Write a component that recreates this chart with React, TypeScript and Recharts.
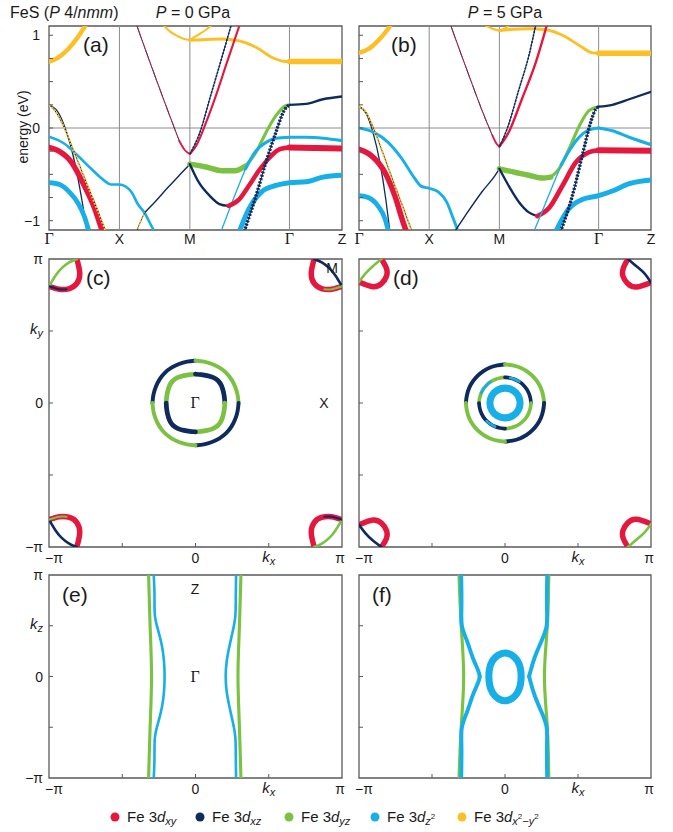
import { LineChart, Line, XAxis, YAxis, ReferenceLine, ReferenceArea } from "recharts";

// FeS (P4/nmm) fat bands + Fermi surfaces at 0 and 5 GPa

type Orb = "xy" | "xz" | "yz" | "z2" | "x2y2";
type Pt = [number, number];
interface Seg { orb: Orb; w: number; pts: Pt[] }

const orbColors: Record<Orb, string> = {
  xy: "#e4173e",
  xz: "#0f2b5e",
  yz: "#7cc242",
  z2: "#18afe8",
  x2y2: "#fcbf26",
};
const legendOrder: Orb[] = ["xy", "xz", "yz", "z2", "x2y2"];

const kPathTicks = [0, 1, 2, 3.414, 4.16];
const kPathLabels = ["Γ", "X", "M", "Γ", "Z"];
const energyTicks = [-1, -0.75, -0.5, -0.25, 0, 0.25, 0.5, 0.75, 1];
const bzTicks = [-1, -0.5, 0, 0.5, 1];

// ---- band structure, P = 0 GPa (k along path, energy in eV, w = orbital weight)
const bandsA: Seg[] = [
  { orb: "x2y2", w: 0.7, pts: [[0, 0.716], [0.13, 0.76], [0.27, 0.85], [0.41, 0.98], [0.53, 1.12]] },
  { orb: "x2y2", w: 0.25, pts: [[1.61, 1.12], [1.72, 1.04], [1.83, 0.99], [1.92, 0.96], [2, 0.95]] },
  { orb: "x2y2", w: 0.25, pts: [[2, 0.95], [2.13, 1.01], [2.23, 1.06], [2.32, 1.12]] },
  { orb: "x2y2", w: 0.4, pts: [[2, 0.945], [2.23, 0.955], [2.46, 0.96], [2.7, 0.94], [2.94, 0.87], [3.17, 0.76], [3.33, 0.72], [3.414, 0.716]] },
  { orb: "x2y2", w: 0.9, pts: [[3.414, 0.716], [3.8, 0.716], [4.16, 0.716]] },
  { orb: "xz", w: 0.1, pts: [[0, 0.25], [0.1, 0.2], [0.2, 0.06], [0.3, -0.17], [0.4, -0.5], [0.47, -0.79], [0.54, -1.12]] },
  { orb: "z2", w: 0.35, pts: [[0, -0.094], [0.22, -0.17], [0.41, -0.3], [0.6, -0.44], [0.79, -0.57], [0.88, -0.61], [1, -0.61], [1.17, -0.69], [1.26, -0.82], [1.36, -0.92], [1.45, -1.05], [1.5, -1.12]] },
  { orb: "xy", w: 0.9, pts: [[0, -0.21], [0.13, -0.245], [0.32, -0.37], [0.5, -0.62], [0.65, -0.87], [0.76, -1.12]] },
  { orb: "z2", w: 0.75, pts: [[0, -0.59], [0.15, -0.61], [0.3, -0.7], [0.42, -0.82], [0.5, -0.95], [0.57, -1.12]] },
  { orb: "xy", w: 0.2, pts: [[1.85, -0.14], [1.93, -0.24], [2, -0.28]] },
  { orb: "xz", w: 0.12, pts: [[1.36, -0.91], [1.5, -0.8], [1.69, -0.64], [1.85, -0.51], [2, -0.39]] },
  { orb: "xy", w: 0.25, pts: [[2, -0.28], [2.09, -0.19], [2.23, 0.06], [2.37, 0.35], [2.51, 0.67], [2.71, 1.12]] },
  { orb: "yz", w: 0.9, pts: [[2, -0.39], [2.23, -0.42], [2.46, -0.46], [2.65, -0.46], [2.79, -0.41]] },
  { orb: "yz", w: 0.45, pts: [[2.79, -0.41], [2.94, -0.26], [3.08, -0.05], [3.22, 0.13], [3.36, 0.24], [3.414, 0.25]] },
  { orb: "z2", w: 0.1, pts: [[2.44, -1.12], [2.6, -0.8], [2.79, -0.44]] },
  { orb: "z2", w: 0.45, pts: [[2.79, -0.44], [2.94, -0.245], [3.08, -0.155], [3.22, -0.11], [3.414, -0.1]] },
  { orb: "z2", w: 0.45, pts: [[3.414, -0.1], [3.65, -0.1], [3.89, -0.11], [4.16, -0.137]] },
  { orb: "xz", w: 0.3, pts: [[2, -0.39], [2.13, -0.59], [2.28, -0.73], [2.42, -0.82], [2.55, -0.84]] },
  { orb: "xy", w: 0.7, pts: [[2.55, -0.84], [2.7, -0.77], [2.84, -0.62], [2.98, -0.46], [3.13, -0.32], [3.27, -0.23], [3.414, -0.21]] },
  { orb: "xy", w: 1, pts: [[3.414, -0.21], [3.8, -0.215], [4.16, -0.22]] },
  { orb: "xz", w: 0.3, pts: [[3.414, 0.25], [3.65, 0.26], [3.89, 0.31], [4.16, 0.34]] },
  { orb: "z2", w: 0.8, pts: [[2.7, -1.12], [2.84, -0.87], [3.03, -0.68], [3.22, -0.62], [3.414, -0.59], [3.65, -0.58], [3.89, -0.53], [4.16, -0.51]] },
];
// mixed-character bands drawn beaded
const bandsADotted: Seg[] = [
  { orb: "x2y2", w: 0.25, pts: [[0, 0.25], [0.1, 0.17], [0.2, 0.03], [0.3, -0.15], [0.4, -0.34], [0.5, -0.53], [0.6, -0.72], [0.7, -0.91], [0.82, -1.14]] },
  { orb: "xy", w: 0.05, pts: [[1.24, 1.12], [1.5, 0.57], [1.73, 0.1], [1.85, -0.14]] },
  { orb: "x2y2", w: 0.15, pts: [[1.24, -1.12], [1.3, -1.01], [1.36, -0.91]] },
  { orb: "xz", w: 0.15, pts: [[2, -0.28], [2.16, -0.01], [2.28, 0.31], [2.42, 0.67], [2.59, 1.12]] },
  { orb: "xz", w: 0.5, pts: [[2.77, -1.12], [2.94, -0.73], [3.08, -0.37], [3.22, -0.05], [3.34, 0.19], [3.414, 0.25]] },
];

// ---- band structure, P = 5 GPa
const bandsB: Seg[] = [
  { orb: "x2y2", w: 0.7, pts: [[0, 0.81], [0.13, 0.85], [0.27, 0.94], [0.415, 1.07], [0.46, 1.12]] },
  { orb: "x2y2", w: 0.25, pts: [[1.77, 1.12], [1.9, 1.07], [2, 1.05]] },
  { orb: "x2y2", w: 0.25, pts: [[2, 1.05], [2.08, 1.075], [2.16, 1.12]] },
  { orb: "x2y2", w: 0.4, pts: [[2, 1.05], [2.2, 1.065], [2.42, 1.07], [2.66, 1.06], [2.9, 1.0], [3.14, 0.89], [3.33, 0.81], [3.414, 0.806]] },
  { orb: "x2y2", w: 0.9, pts: [[3.414, 0.806], [3.8, 0.806], [4.16, 0.806]] },
  { orb: "xz", w: 0.1, pts: [[0, 0.23], [0.1, 0.16], [0.2, -0.05], [0.3, -0.38], [0.38, -0.76], [0.44, -1.12]] },
  { orb: "z2", w: 0.4, pts: [[0, 0], [0.22, -0.05], [0.415, -0.155], [0.61, -0.33], [0.8, -0.55], [0.89, -0.63], [1, -0.65], [1.13, -0.69], [1.25, -0.8], [1.345, -0.98], [1.42, -1.13]] },
  { orb: "xy", w: 0.9, pts: [[0, -0.23], [0.18, -0.3], [0.37, -0.48], [0.51, -0.73], [0.63, -1.02], [0.68, -1.13]] },
  { orb: "z2", w: 0.75, pts: [[0, -0.73], [0.13, -0.75], [0.27, -0.84], [0.37, -0.98], [0.42, -1.12]] },
  { orb: "xy", w: 0.2, pts: [[1.9, -0.08], [1.96, -0.17], [2, -0.2]] },
  { orb: "xz", w: 0.12, pts: [[1.36, -1.12], [1.51, -0.95], [1.75, -0.69], [1.94, -0.51], [2, -0.44]] },
  { orb: "xy", w: 0.3, pts: [[2, -0.2], [2.13, -0.05], [2.32, 0.31], [2.52, 0.71], [2.68, 1.12]] },
  { orb: "yz", w: 0.9, pts: [[2, -0.44], [2.23, -0.48], [2.42, -0.51], [2.61, -0.54], [2.73, -0.53]] },
  { orb: "yz", w: 0.45, pts: [[2.73, -0.53], [2.85, -0.44], [2.99, -0.23], [3.14, 0.025], [3.28, 0.19], [3.414, 0.23]] },
  { orb: "xz", w: 0.3, pts: [[2, -0.44], [2.13, -0.62], [2.28, -0.8], [2.42, -0.91], [2.54, -0.95]] },
  { orb: "xy", w: 0.75, pts: [[2.54, -0.95], [2.71, -0.86], [2.9, -0.62], [3.09, -0.37], [3.28, -0.26], [3.414, -0.24]] },
  { orb: "xy", w: 1, pts: [[3.414, -0.24], [3.8, -0.243], [4.16, -0.245]] },
  { orb: "z2", w: 0.1, pts: [[2.49, -1.12], [2.69, -0.75], [2.88, -0.4]] },
  { orb: "z2", w: 0.45, pts: [[2.88, -0.4], [3.0, -0.24], [3.09, -0.14], [3.28, -0.02], [3.414, 0]] },
  { orb: "z2", w: 0.45, pts: [[3.414, 0], [3.61, -0.03], [3.85, -0.1], [4.16, -0.18]] },
  { orb: "xz", w: 0.3, pts: [[3.414, 0.23], [3.61, 0.25], [3.85, 0.31], [4.16, 0.39]] },
  { orb: "z2", w: 0.8, pts: [[2.8, -1.12], [2.99, -0.87], [3.18, -0.77], [3.414, -0.73], [3.61, -0.68], [3.85, -0.6], [4.16, -0.56]] },
];
const bandsBDotted: Seg[] = [
  { orb: "x2y2", w: 0.25, pts: [[0, 0.23], [0.1, 0.17], [0.2, 0.01], [0.35, -0.29], [0.5, -0.6], [0.65, -0.9], [0.76, -1.13]] },
  { orb: "xy", w: 0.05, pts: [[1.3, 1.12], [1.55, 0.6], [1.8, 0.1], [1.9, -0.08]] },
  { orb: "xz", w: 0.15, pts: [[2, -0.2], [2.09, -0.05], [2.28, 0.42], [2.42, 0.78], [2.52, 1.12]] },
  { orb: "xz", w: 0.5, pts: [[2.87, -1.12], [3.04, -0.73], [3.18, -0.3], [3.3, 0.06], [3.37, 0.2], [3.414, 0.23]] },
];

// ---- Fermi surface kz = 0 plane, P = 0 GPa (kx, ky in units of pi)
const ringsC: Seg[] = [
  { orb: "xz", w: 0.6, pts: [[-0.294, 0], [-0.289, 0.058], [-0.272, 0.113], [-0.247, 0.165], [-0.211, 0.211], [-0.165, 0.247], [-0.113, 0.272], [-0.058, 0.289], [0, 0.294]] },
  { orb: "yz", w: 0.6, pts: [[0, 0.294], [0.058, 0.289], [0.113, 0.272], [0.165, 0.247], [0.211, 0.211], [0.247, 0.165], [0.272, 0.113], [0.289, 0.058], [0.294, 0]] },
  { orb: "xz", w: 0.6, pts: [[0.294, 0], [0.289, -0.058], [0.272, -0.113], [0.247, -0.165], [0.211, -0.211], [0.165, -0.247], [0.113, -0.272], [0.058, -0.289], [0, -0.294]] },
  { orb: "yz", w: 0.6, pts: [[0, -0.294], [-0.058, -0.289], [-0.113, -0.272], [-0.165, -0.247], [-0.211, -0.211], [-0.247, -0.165], [-0.272, -0.113], [-0.289, -0.058], [-0.294, 0]] },
  { orb: "yz", w: 0.75, pts: [[-0.2, 0], [-0.198, 0.039], [-0.191, 0.079], [-0.179, 0.12], [-0.157, 0.157], [-0.12, 0.179], [-0.079, 0.191], [-0.039, 0.198], [0, 0.2]] },
  { orb: "xz", w: 0.75, pts: [[0, 0.2], [0.039, 0.198], [0.079, 0.191], [0.12, 0.179], [0.157, 0.157], [0.179, 0.12], [0.191, 0.079], [0.198, 0.039], [0.2, 0]] },
  { orb: "yz", w: 0.75, pts: [[0.2, 0], [0.198, -0.039], [0.191, -0.079], [0.179, -0.12], [0.157, -0.157], [0.12, -0.179], [0.079, -0.191], [0.039, -0.198], [0, -0.2]] },
  { orb: "xz", w: 0.75, pts: [[0, -0.2], [-0.039, -0.198], [-0.079, -0.191], [-0.12, -0.179], [-0.157, -0.157], [-0.179, -0.12], [-0.191, -0.079], [-0.198, -0.039], [-0.2, 0]] },
];
const pocketsC: Seg[] = [
  { orb: "xy", w: 0.9, pts: [[-1, 0.81], [-0.93, 0.79], [-0.86, 0.795], [-0.81, 0.83], [-0.79, 0.9], [-0.81, 1]] },
  { orb: "yz", w: 0.35, pts: [[-1, 0.81], [-0.955, 0.885], [-0.915, 0.935], [-0.865, 0.975], [-0.81, 1]] },
  { orb: "xz", w: 0.25, pts: [[-1, 0.81], [-0.93, 0.79], [-0.88, 0.79]] },
  { orb: "xy", w: 0.9, pts: [[1, 0.81], [0.93, 0.79], [0.86, 0.795], [0.81, 0.83], [0.79, 0.9], [0.81, 1]] },
  { orb: "xz", w: 0.35, pts: [[1, 0.81], [0.955, 0.885], [0.915, 0.935], [0.865, 0.975], [0.81, 1]] },
  { orb: "yz", w: 0.25, pts: [[1, 0.81], [0.93, 0.79], [0.88, 0.79]] },
  { orb: "xy", w: 0.9, pts: [[-1, -0.81], [-0.93, -0.79], [-0.86, -0.795], [-0.81, -0.83], [-0.79, -0.9], [-0.81, -1]] },
  { orb: "xz", w: 0.35, pts: [[-1, -0.81], [-0.955, -0.885], [-0.915, -0.935], [-0.865, -0.975], [-0.81, -1]] },
  { orb: "yz", w: 0.25, pts: [[-1, -0.81], [-0.93, -0.79], [-0.88, -0.79]] },
  { orb: "xy", w: 0.9, pts: [[1, -0.81], [0.93, -0.79], [0.86, -0.795], [0.81, -0.83], [0.79, -0.9], [0.81, -1]] },
  { orb: "yz", w: 0.35, pts: [[1, -0.81], [0.955, -0.885], [0.915, -0.935], [0.865, -0.975], [0.81, -1]] },
  { orb: "xz", w: 0.25, pts: [[1, -0.81], [0.93, -0.79], [0.88, -0.79]] },
];

// ---- Fermi surface kz = 0 plane, P = 5 GPa
const ringsD: Seg[] = [
  { orb: "xz", w: 0.6, pts: [[-0.268, 0], [-0.263, 0.052], [-0.248, 0.103], [-0.223, 0.149], [-0.189, 0.189], [-0.149, 0.223], [-0.103, 0.248], [-0.052, 0.263], [0, 0.268]] },
  { orb: "yz", w: 0.6, pts: [[0, 0.268], [0.052, 0.263], [0.103, 0.248], [0.149, 0.223], [0.189, 0.189], [0.223, 0.149], [0.248, 0.103], [0.263, 0.052], [0.268, 0]] },
  { orb: "xz", w: 0.6, pts: [[0.268, 0], [0.263, -0.052], [0.248, -0.103], [0.223, -0.149], [0.189, -0.189], [0.149, -0.223], [0.103, -0.248], [0.052, -0.263], [0, -0.268]] },
  { orb: "yz", w: 0.6, pts: [[0, -0.268], [-0.052, -0.263], [-0.103, -0.248], [-0.149, -0.223], [-0.189, -0.189], [-0.223, -0.149], [-0.248, -0.103], [-0.263, -0.052], [-0.268, 0]] },
  { orb: "yz", w: 0.55, pts: [[-0.178, 0], [-0.175, 0.035], [-0.164, 0.068], [-0.148, 0.099], [-0.126, 0.126], [-0.099, 0.148], [-0.068, 0.164], [-0.035, 0.175], [0, 0.178]] },
  { orb: "xz", w: 0.55, pts: [[0, 0.178], [0.035, 0.175], [0.068, 0.164], [0.099, 0.148], [0.126, 0.126], [0.148, 0.099], [0.164, 0.068], [0.175, 0.035], [0.178, 0]] },
  { orb: "yz", w: 0.55, pts: [[0.178, 0], [0.175, -0.035], [0.164, -0.068], [0.148, -0.099], [0.126, -0.126], [0.099, -0.148], [0.068, -0.164], [0.035, -0.175], [0, -0.178]] },
  { orb: "xz", w: 0.55, pts: [[0, -0.178], [-0.035, -0.175], [-0.068, -0.164], [-0.099, -0.148], [-0.126, -0.126], [-0.148, -0.099], [-0.164, -0.068], [-0.175, -0.035], [-0.178, 0]] },
  { orb: "z2", w: 0.35, pts: [[-0.164, 0.068], [-0.148, 0.099], [-0.126, 0.126], [-0.099, 0.148]] },
  { orb: "z2", w: 0.35, pts: [[0.035, 0.175], [0.068, 0.164], [0.099, 0.148]] },
  { orb: "z2", w: 0.35, pts: [[-0.126, -0.126], [-0.099, -0.148], [-0.068, -0.164]] },
];
const pocketsD: Seg[] = [
  { orb: "xy", w: 0.9, pts: [[-1, 0.84], [-0.905, 0.808], [-0.845, 0.83], [-0.812, 0.88], [-0.812, 0.935], [-0.846, 1]] },
  { orb: "yz", w: 0.35, pts: [[-1, 0.84], [-0.955, 0.9], [-0.905, 0.95], [-0.846, 1]] },
  { orb: "xy", w: 0.9, pts: [[1, 0.836], [0.9, 0.805], [0.84, 0.83], [0.808, 0.88], [0.81, 0.935], [0.842, 1]] },
  { orb: "xz", w: 0.35, pts: [[1, 0.836], [0.955, 0.9], [0.9, 0.95], [0.842, 1]] },
  { orb: "xy", w: 0.9, pts: [[-1, -0.845], [-0.905, -0.812], [-0.845, -0.835], [-0.812, -0.885], [-0.812, -0.94], [-0.846, -1]] },
  { orb: "xz", w: 0.35, pts: [[-1, -0.845], [-0.955, -0.905], [-0.905, -0.955], [-0.846, -1]] },
  { orb: "xy", w: 0.9, pts: [[1, -0.84], [0.9, -0.808], [0.84, -0.833], [0.808, -0.885], [0.81, -0.94], [0.842, -1]] },
  { orb: "yz", w: 0.35, pts: [[1, -0.84], [0.955, -0.9], [0.9, -0.95], [0.842, -1]] },
];
const loopsD: Seg[] = [
  { orb: "z2", w: 1.2, pts: [[0.108, 0], [0.094, 0.054], [0.054, 0.094], [0, 0.108], [-0.054, 0.094], [-0.094, 0.054], [-0.108, 0], [-0.094, -0.054], [-0.054, -0.094], [0, -0.108], [0.054, -0.094], [0.094, -0.054]] },
];

// ---- Fermi surface ky = 0 plane (kx, kz in units of pi)
const sheetsE: Seg[] = [
  { orb: "yz", w: 0.45, pts: [[-0.32, -1], [-0.31, -0.5], [-0.3, 0], [-0.31, 0.5], [-0.32, 1]] },
  { orb: "z2", w: 0.35, pts: [[-0.285, -1], [-0.28, -0.8], [-0.277, -0.6], [-0.254, -0.45], [-0.229, -0.3], [-0.215, -0.15], [-0.211, 0], [-0.215, 0.15], [-0.229, 0.3], [-0.254, 0.45], [-0.277, 0.6], [-0.28, 0.8], [-0.285, 1]] },
  { orb: "z2", w: 0.35, pts: [[0.277, -1], [0.275, -0.8], [0.272, -0.6], [0.255, -0.45], [0.232, -0.3], [0.213, -0.15], [0.206, 0], [0.213, 0.15], [0.232, 0.3], [0.255, 0.45], [0.272, 0.6], [0.275, 0.8], [0.277, 1]] },
  { orb: "yz", w: 0.45, pts: [[0.31, -1], [0.3, -0.5], [0.29, 0], [0.3, 0.5], [0.31, 1]] },
];
const sheetsF: Seg[] = [
  { orb: "yz", w: 0.45, pts: [[-0.315, -1], [-0.3, -0.5], [-0.283, 0], [-0.3, 0.5], [-0.315, 1]] },
  { orb: "yz", w: 0.45, pts: [[0.3, -1], [0.29, -0.5], [0.27, 0], [0.29, 0.5], [0.3, 1]] },
  { orb: "z2", w: 0.6, pts: [[-0.3, 1], [-0.298, 0.7], [-0.295, 0.5], [-0.26, 0.35], [-0.222, 0.19], [-0.184, 0.06], [-0.173, 0]] },
  { orb: "z2", w: 0.6, pts: [[-0.173, 0], [-0.184, -0.06], [-0.222, -0.19], [-0.26, -0.35], [-0.295, -0.5], [-0.298, -0.7], [-0.3, -1]] },
  { orb: "z2", w: 0.6, pts: [[0.289, 1], [0.287, 0.7], [0.285, 0.5], [0.25, 0.35], [0.204, 0.19], [0.176, 0.06], [0.165, 0]] },
  { orb: "z2", w: 0.6, pts: [[0.165, 0], [0.176, -0.06], [0.204, -0.19], [0.25, -0.35], [0.285, -0.5], [0.287, -0.7], [0.289, -1]] },
];
const loopsF: Seg[] = [
  { orb: "z2", w: 1.2, pts: [[0, 0.24], [0.05, 0.215], [0.088, 0.16], [0.108, 0.08], [0.112, 0], [0.108, -0.08], [0.088, -0.165], [0.05, -0.222], [0, -0.248], [-0.05, -0.222], [-0.088, -0.165], [-0.108, -0.08], [-0.112, 0], [-0.108, 0.08], [-0.088, 0.16], [-0.05, 0.215]] },
];

const FONT = "'Liberation Sans', Arial, Helvetica, sans-serif";
const SERIF = "'Liberation Serif', 'DejaVu Serif', serif";
const INK = "#1a1a1a";
const FRAME = "#5a5a5a";
const SYM = "#8c8c8c";

const lw = (w: number) => 0.8 + 5.2 * w;
const rows = (pts: Pt[]) => pts.map(([x, y]) => ({ x, y }));

function solidLines(segs: Seg[], id: string, curve: "monotone" | "natural" | "basis" | "basisClosed") {
  return segs.map((s, i) => (
    <Line key={`${id}${i}`} data={rows(s.pts)} dataKey="y" type={curve} stroke={orbColors[s.orb]}
      strokeWidth={lw(s.w)} strokeLinecap="round" strokeLinejoin="round" dot={false} activeDot={false}
      isAnimationActive={false} legendType="none" />
  ));
}

function dottedLines(segs: Seg[], id: string) {
  return segs.flatMap((s, i) => [
    <Line key={`${id}u${i}`} data={rows(s.pts)} dataKey="y" type="monotone" stroke={orbColors.xz}
      strokeWidth={1} dot={false} activeDot={false} isAnimationActive={false} legendType="none" />,
    <Line key={`${id}d${i}`} data={rows(s.pts)} dataKey="y" type="monotone" stroke={orbColors[s.orb]}
      strokeWidth={lw(s.w)} strokeDasharray="2 1.4" dot={false} activeDot={false}
      isAnimationActive={false} legendType="none" />,
  ]);
}

// ---- ticks
const PathTick = (p: any) => {
  const i = kPathTicks.findIndex(t => Math.abs(t - p.payload.value) < 1e-6);
  const lab = kPathLabels[i] ?? "";
  const serif = lab === "Γ";
  return (
    <text x={p.x} y={p.y + 14} textAnchor="middle" fontSize={serif ? 16 : 14}
      fontFamily={serif ? SERIF : FONT} fill={INK}>{lab}</text>
  );
};

const energyTick = (show: boolean) => (p: any) => {
  const v = p.payload.value;
  const isInt = Math.abs(v - Math.round(v)) < 1e-6;
  return (
    <g>
      <line x1={p.x} x2={p.x + 4} y1={p.y} y2={p.y} stroke={FRAME} strokeWidth={1} />
      {show && isInt && (
        <text x={p.x - 9} y={p.y + 5} textAnchor="end" fontSize={14} fontFamily={FONT} fill={INK}>
          {v < 0 ? `−${Math.abs(v)}` : `${v}`}
        </text>
      )}
    </g>
  );
};

const RightTick = (p: any) => (
  <line x1={p.x - 4} x2={p.x} y1={p.y} y2={p.y} stroke={FRAME} strokeWidth={1} />
);

function kText(axis: string, x: number, y: number, anchor: "start" | "middle" | "end") {
  return (
    <text x={x} y={y} textAnchor={anchor} fontSize={15} fontFamily={FONT} fill={INK}>
      <tspan fontStyle="italic">k</tspan>
      <tspan fontStyle="italic" fontSize={11} dy={3}>{axis}</tspan>
    </text>
  );
}

const piText = (v: number) => (v === 1 ? "π" : v === -1 ? "−π" : v === 0 ? "0" : "");

const BzBottomTick = (p: any) => {
  const v = p.payload.value;
  const inner = Math.abs(v) < 0.99;
  let label = null;
  if (v === 0.5) label = kText("x", p.x, p.y + 15, "middle");
  else if (v !== -0.5)
    label = (
      <text x={p.x + (v === -1 ? 5 : v === 1 ? -2 : 0)} y={p.y + 16} textAnchor="middle" fontSize={14}
        fontFamily={FONT} fill={INK}>{piText(v)}</text>
    );
  return (
    <g>
      {inner && <line x1={p.x} x2={p.x} y1={p.y} y2={p.y - 4} stroke={FRAME} strokeWidth={1} />}
      {label}
    </g>
  );
};

const bzLeftTick = (axis: string, show: boolean) => (p: any) => {
  const v = p.payload.value;
  const inner = Math.abs(v) < 0.99;
  let label = null;
  if (show) {
    if (v === 0.5) label = kText(axis, p.x - 6, p.y + 3, "end");
    else if (v !== -0.5)
      label = (
        <text x={p.x - 6} y={p.y + 5} textAnchor="end" fontSize={14} fontFamily={FONT} fill={INK}>{piText(v)}</text>
      );
  }
  return (
    <g>
      {inner && <line x1={p.x} x2={p.x + 4} y1={p.y} y2={p.y} stroke={FRAME} strokeWidth={1} />}
      {label}
    </g>
  );
};

const BzRightTick = (p: any) =>
  Math.abs(p.payload.value) < 0.99 ? (
    <line x1={p.x - 4} x2={p.x} y1={p.y} y2={p.y} stroke={FRAME} strokeWidth={1} />
  ) : <g />;

// ---- panels
function BandPanel({ left, width, segs, dots, showLabels }: {
  left: number; width: number; segs: Seg[]; dots: Seg[]; showLabels: boolean;
}) {
  return (
    <div style={{ position: "absolute", left, top: 0 }}>
      <LineChart width={width} height={256} margin={{ top: 26, right: 8, bottom: 0, left: 0 }}>
        <XAxis type="number" dataKey="x" domain={[0, 4.16]} ticks={kPathTicks} interval={0} allowDataOverflow
          height={26} axisLine={false} tickLine={false} tickSize={0} tickMargin={0} tick={PathTick} />
        <YAxis type="number" domain={[-1.1, 1.1]} ticks={energyTicks} interval={0} allowDataOverflow width={49}
          axisLine={false} tickLine={false} tickSize={0} tickMargin={0} tick={energyTick(showLabels)} />
        <YAxis yAxisId="r" orientation="right" type="number" domain={[-1.1, 1.1]} ticks={energyTicks} interval={0}
          allowDataOverflow width={0} axisLine={false} tickLine={false} tickSize={0} tickMargin={0} tick={RightTick} />
        <ReferenceLine x={1} stroke={SYM} strokeWidth={1} />
        <ReferenceLine x={2} stroke={SYM} strokeWidth={1} />
        <ReferenceLine x={3.414} stroke={SYM} strokeWidth={1} />
        <ReferenceLine y={0} stroke={SYM} strokeWidth={1} />
        {solidLines(segs, "s", "monotone")}
        {dottedLines(dots, "d")}
        <ReferenceArea x1={0} x2={4.16} y1={-1.1} y2={1.1} fill="none" stroke={FRAME} strokeWidth={1.3} />
      </LineChart>
    </div>
  );
}

function BzPanel({ left, top, width, height, marginTop, rings, segs, loops, yName, showLabels }: {
  left: number; top: number; width: number; height: number; marginTop: number;
  rings: Seg[]; segs: Seg[]; loops: Seg[]; yName: string; showLabels: boolean;
}) {
  return (
    <div style={{ position: "absolute", left, top }}>
      <LineChart width={width} height={height} margin={{ top: marginTop, right: 8, bottom: 0, left: 0 }}>
        <XAxis type="number" dataKey="x" domain={[-1, 1]} ticks={bzTicks} interval={0} allowDataOverflow
          height={24} axisLine={false} tickLine={false} tickSize={0} tickMargin={0} tick={BzBottomTick} />
        <YAxis type="number" domain={[-1, 1]} ticks={bzTicks} interval={0} allowDataOverflow width={49}
          axisLine={false} tickLine={false} tickSize={0} tickMargin={0} tick={bzLeftTick(yName, showLabels)} />
        <YAxis yAxisId="r" orientation="right" type="number" domain={[-1, 1]} ticks={bzTicks} interval={0}
          allowDataOverflow width={0} axisLine={false} tickLine={false} tickSize={0} tickMargin={0} tick={BzRightTick} />
        {solidLines(rings, "r", "basis")}
        {solidLines(segs, "f", "natural")}
        {solidLines(loops, "l", "basisClosed")}
        <ReferenceArea x1={-1} x2={1} y1={-1} y2={1} fill="none" stroke={FRAME} strokeWidth={1.3} />
      </LineChart>
    </div>
  );
}

const legendX = [115, 200, 289, 375, 462];

function OrbLabel({ orb, x, y }: { orb: Orb; x: number; y: number }) {
  const sub = { fontStyle: "italic" as const, fontSize: 11 };
  return (
    <text x={x} y={y} fontSize={15} fontFamily={FONT} fill={INK}>
      Fe 3<tspan fontStyle="italic">d</tspan>
      {orb === "xy" && <tspan {...sub} dy={3}>xy</tspan>}
      {orb === "xz" && <tspan {...sub} dy={3}>xz</tspan>}
      {orb === "yz" && <tspan {...sub} dy={3}>yz</tspan>}
      {orb === "z2" && (
        <>
          <tspan {...sub} dy={3}>z</tspan>
          <tspan fontSize={8} dy={-6}>2</tspan>
        </>
      )}
      {orb === "x2y2" && (
        <>
          <tspan {...sub} dy={3}>x</tspan>
          <tspan fontSize={8} dy={-6}>2</tspan>
          <tspan {...sub} dy={6}>−y</tspan>
          <tspan fontSize={8} dy={-6}>2</tspan>
        </>
      )}
    </text>
  );
}

export default function App() {
  return (
    <div style={{ position: "absolute", left: 0, top: 0, width: 673, height: 832, background: "#fff" }}>
      <BandPanel left={0} width={350} segs={bandsA} dots={bandsADotted} showLabels />
      <BandPanel left={310} width={349} segs={bandsB} dots={bandsBDotted} showLabels={false} />
      <BzPanel left={0} top={240} width={350} height={331} marginTop={19} rings={ringsC} segs={pocketsC} loops={[]} yName="y" showLabels />
      <BzPanel left={310} top={240} width={349} height={331} marginTop={19} rings={ringsD} segs={pocketsD} loops={loopsD} yName="y" showLabels={false} />
      <BzPanel left={0} top={560} width={350} height={242} marginTop={15} rings={[]} segs={sheetsE} loops={[]} yName="z" showLabels />
      <BzPanel left={310} top={560} width={349} height={242} marginTop={15} rings={[]} segs={sheetsF} loops={loopsF} yName="z" showLabels={false} />

      <svg width={673} height={832} style={{ position: "absolute", left: 0, top: 0, pointerEvents: "none" }}
        fontFamily={FONT} fill={INK}>
        <text x={10} y={18} fontSize={16}>FeS (<tspan fontStyle="italic">P</tspan> 4/<tspan fontStyle="italic">nmm</tspan>)</text>
        <text x={193} y={18} fontSize={16} textAnchor="middle"><tspan fontStyle="italic">P</tspan> = 0 GPa</text>
        <text x={505} y={18} fontSize={16} textAnchor="middle"><tspan fontStyle="italic">P</tspan> = 5 GPa</text>
        <text transform="translate(28,127) rotate(-90)" textAnchor="middle" fontSize={14}>energy (eV)</text>

        <text x={83} y={52} fontSize={21}>(a)</text>
        <text x={391} y={52} fontSize={21}>(b)</text>
        <text x={86} y={285} fontSize={21}>(c)</text>
        <text x={393} y={285} fontSize={21}>(d)</text>
        <text x={62} y={602} fontSize={21}>(e)</text>
        <text x={372} y={602} fontSize={21}>(f)</text>

        <text x={195} y={408} fontSize={16} fontFamily={SERIF} textAnchor="middle">Γ</text>
        <text x={324} y={408} fontSize={14} textAnchor="middle">X</text>
        <text x={332} y={273} fontSize={14} textAnchor="middle">M</text>
        <text x={195} y={594} fontSize={14} textAnchor="middle">Z</text>
        <text x={195} y={682} fontSize={16} fontFamily={SERIF} textAnchor="middle">Γ</text>

        {legendOrder.map((o, i) => (
          <g key={o}>
            <circle cx={legendX[i]} cy={817} r={4.5} fill={orbColors[o]} />
            <OrbLabel orb={o} x={legendX[i] + 12} y={822} />
          </g>
        ))}
      </svg>
    </div>
  );
}
